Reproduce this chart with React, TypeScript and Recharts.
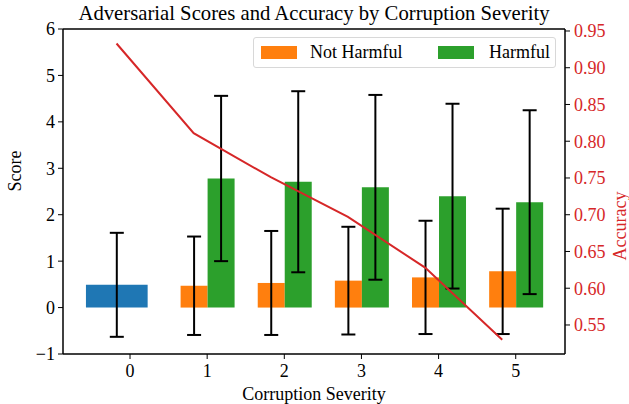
import React from 'react';
import { ComposedChart, Bar, Line, XAxis, YAxis, ErrorBar, ReferenceLine, Legend } from 'recharts';

const severities = ['0', '1', '2', '3', '4', '5'];
const baselineScore = [0.49, null, null, null, null, null];
const baselineErr = [1.12, null, null, null, null, null];
const notHarmful = [null, 0.47, 0.53, 0.58, 0.65, 0.78];
const notHarmfulErr = [null, 1.06, 1.12, 1.16, 1.22, 1.35];
const harmful = [null, 2.78, 2.71, 2.59, 2.4, 2.27];
const harmfulErr = [null, 1.78, 1.95, 1.99, 1.99, 1.98];
const accuracy = [0.933, 0.811, 0.751, 0.697, 0.628, 0.53];
const scoreTicks = [-1, 0, 1, 2, 3, 4, 5, 6];
const accTicks = [0.55, 0.6, 0.65, 0.7, 0.75, 0.8, 0.85, 0.9, 0.95];

const data = severities.map((s, i) => ({
  severity: s,
  baseline: baselineScore[i],
  baselineErr: baselineErr[i],
  notHarmful: notHarmful[i],
  notHarmfulErr: notHarmfulErr[i],
  harmful: harmful[i],
  harmfulErr: harmfulErr[i],
  accuracy: accuracy[i],
}));

const FONT = '"Liberation Serif", "DejaVu Serif", serif';
const RED = '#d62728';
const FS = 18;

const fmtMinus = (v: number) => (v < 0 ? `\u2212${Math.abs(v)}` : String(v));

const LegendBox = () => (
  <div
    style={{
      position: 'absolute',
      left: 253,
      top: 37,
      width: 303,
      height: 31,
      border: '1px solid #d8d8d8',
      borderRadius: 3,
      background: 'rgba(255,255,255,0.8)',
      fontFamily: FONT,
      fontSize: FS,
      color: '#000',
      boxSizing: 'border-box',
    }}
  >
    <div style={{ position: 'absolute', left: 7, top: 8, width: 36, height: 13, background: '#ff7f0e' }} />
    <div style={{ position: 'absolute', left: 56, top: 3, lineHeight: '22px', whiteSpace: 'nowrap' }}>Not Harmful</div>
    <div style={{ position: 'absolute', left: 184, top: 8, width: 36, height: 13, background: '#2ca02c' }} />
    <div style={{ position: 'absolute', left: 235, top: 3, lineHeight: '22px', whiteSpace: 'nowrap' }}>Harmful</div>
  </div>
);

export default function App() {
  return (
    <div style={{ position: 'absolute', left: 0, top: 0, width: 629, height: 404, background: '#fff', fontFamily: FONT }}>
      <style>{`.recharts-wrapper text, .recharts-text { font-family: "Liberation Serif", "DejaVu Serif", serif !important; }`}</style>
      <div
        style={{
          position: 'absolute',
          left: 13,
          width: 602,
          top: 1,
          textAlign: 'center',
          fontFamily: FONT,
          fontSize: 20.7,
          lineHeight: '24px',
          whiteSpace: 'nowrap',
          color: '#000',
        }}
      >
        Adversarial Scores and Accuracy by Corruption Severity
      </div>
      <ComposedChart
        width={629}
        height={404}
        data={data}
        margin={{ top: 29, right: 0, bottom: 0, left: 0 }}
        barGap={0}
        style={{ fontFamily: FONT }}
      >
        <XAxis
          xAxisId="main"
          dataKey="severity"
          type="category"
          height={50}
          padding={{ left: 28.45, right: 10.7 }}
          axisLine={{ stroke: '#000', strokeWidth: 1.5 }}
          tickLine={{ stroke: '#000' }}
          tickSize={5}
          tickMargin={5}
          tick={{ fill: '#000', fontSize: FS, fontFamily: FONT }}
          label={{ value: 'Corruption Severity', position: 'insideBottom', offset: 4, fill: '#000', fontSize: FS, fontFamily: FONT }}
        />
        <XAxis
          xAxisId="shift"
          dataKey="severity"
          type="category"
          hide
          padding={{ left: 14.95, right: 24.2 }}
        />
        <YAxis
          yAxisId="left"
          orientation="left"
          width={63}
          domain={[-1, 6]}
          ticks={scoreTicks}
          interval={0}
          allowDataOverflow
          tickFormatter={fmtMinus}
          axisLine={{ stroke: '#000', strokeWidth: 1.5 }}
          tickLine={{ stroke: '#000' }}
          tickSize={5}
          tickMargin={3}
          tick={{ fill: '#000', fontSize: FS, fontFamily: FONT }}
          label={{ value: 'Score', angle: -90, position: 'insideLeft', offset: 15, fill: '#000', fontSize: FS, fontFamily: FONT }}
        />
        <YAxis
          yAxisId="right"
          orientation="right"
          width={64}
          domain={[0.5105, 0.9527]}
          ticks={accTicks}
          interval={0}
          allowDataOverflow
          tickFormatter={(v: number) => v.toFixed(2)}
          axisLine={{ stroke: '#000', strokeWidth: 1.5 }}
          tickLine={{ stroke: '#000' }}
          tickSize={5}
          tickMargin={4}
          tick={{ fill: RED, fontSize: FS, fontFamily: FONT }}
          label={{ value: 'Accuracy', angle: -90, position: 'insideRight', offset: 9, fill: RED, fontSize: FS, fontFamily: FONT }}
        />
        <ReferenceLine yAxisId="left" xAxisId="main" y={6} stroke="#000" strokeWidth={1.5} ifOverflow="visible" />
        <Bar xAxisId="shift" yAxisId="left" dataKey="baseline" fill="#1f77b4" barSize={61.7} isAnimationActive={false}>
          <ErrorBar dataKey="baselineErr" width={7} strokeWidth={2} stroke="#000" direction="y" />
        </Bar>
        <Bar xAxisId="main" yAxisId="left" dataKey="notHarmful" fill="#ff7f0e" barSize={27} isAnimationActive={false}>
          <ErrorBar dataKey="notHarmfulErr" width={7} strokeWidth={2} stroke="#000" direction="y" />
        </Bar>
        <Bar xAxisId="main" yAxisId="left" dataKey="harmful" fill="#2ca02c" barSize={27} isAnimationActive={false}>
          <ErrorBar dataKey="harmfulErr" width={7} strokeWidth={2} stroke="#000" direction="y" />
        </Bar>
        <Line
          xAxisId="shift"
          yAxisId="right"
          dataKey="accuracy"
          stroke={RED}
          strokeWidth={2}
          dot={false}
          type="linear"
          isAnimationActive={false}
        />
        <Legend content={() => null} />
      </ComposedChart>
      <LegendBox />
    </div>
  );
}
